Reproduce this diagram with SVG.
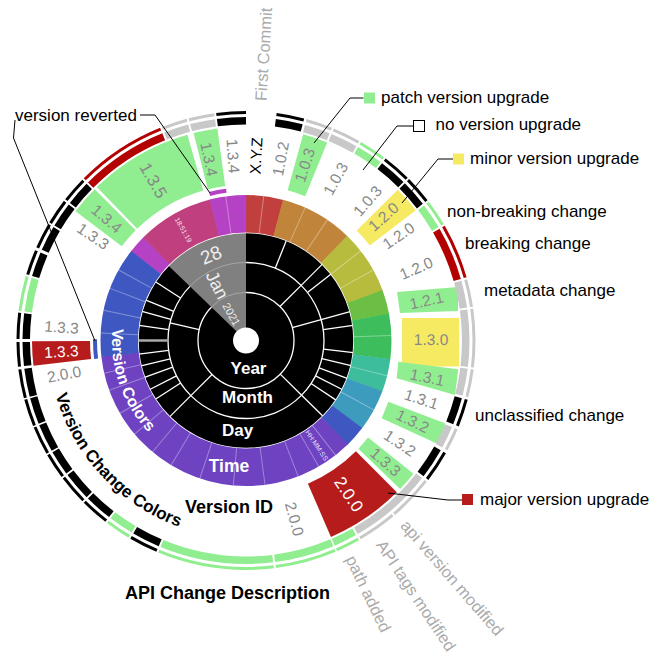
<svg xmlns="http://www.w3.org/2000/svg" width="664" height="658" viewBox="0 0 664 658">
<style>
text{font-family:"Liberation Sans",Arial,sans-serif}
.ti{fill:none;stroke-width:7.5}
.to{fill:none;stroke-width:3}
.k{stroke:#000}.g{stroke:#c8c8c8}.l{stroke:#90ee90}.r{stroke:#b30000}
.tr{fill:none;stroke-width:37.5}
.va{fill:none;stroke-width:58}
.vl{font-size:15.5px;fill:#888;text-anchor:middle}
.lg{font-size:17px;fill:#000}
.rl{font-size:17px;font-weight:bold;fill:#fff;text-anchor:middle}
.bl{font-size:18px;font-weight:bold;fill:#000;text-anchor:middle}
.ol{font-size:16.5px;fill:#aaa}
.ld{fill:none;stroke:#000;stroke-width:1}
.wl{stroke:#fff;stroke-width:1.3}
.fl{stroke:#fff;stroke-opacity:.35;stroke-width:1}
</style>
<defs>
<path id="p-vc" d="M112.74 326.5 A134 134 0 0 0 183.1 458.8"/>
<path id="p-vcc" d="M55.67 395.08 A198 198 0 0 0 225.3 537.4"/>
</defs>

<g id="core-rings" transform="translate(246 340.5)">
<circle r="108" fill="#000"/>
<g class="wl">
<line x1="48" x2="78" transform="rotate(44.5)"/>
<line x1="48" x2="78" transform="rotate(135)"/>
<line x1="48" x2="78" transform="rotate(193)"/>
<line x1="48" x2="78" transform="rotate(315)"/>
<line x1="48" x2="78" transform="rotate(344.5)"/>
<line x1="78" x2="108" transform="rotate(292)"/>
<line x1="78" x2="108" transform="rotate(315)"/>
<line x1="78" x2="108" transform="rotate(322)"/>
<line x1="78" x2="108" transform="rotate(344.5)"/>
<line x1="78" x2="108" transform="rotate(352)"/>
<line x1="78" x2="108" transform="rotate(6.4)"/>
<line x1="78" x2="108" transform="rotate(13.5)"/>
<line x1="78" x2="108" transform="rotate(20.5)"/>
<line x1="78" x2="108" transform="rotate(27)"/>
<line x1="78" x2="108" transform="rotate(33.5)"/>
<line x1="78" x2="108" transform="rotate(44.5)"/>
<line x1="78" x2="108" transform="rotate(135)"/>
<line x1="78" x2="108" transform="rotate(147)"/>
<line x1="78" x2="108" transform="rotate(153)"/>
<line x1="78" x2="108" transform="rotate(160)"/>
<line x1="78" x2="108" transform="rotate(166.4)"/>
<line x1="78" x2="108" transform="rotate(172.7)"/>
<line x1="78" x2="108" transform="rotate(188)"/>
<line x1="78" x2="108" transform="rotate(195.7)"/>
<line x1="78" x2="108" transform="rotate(202)"/>
<line x1="78" x2="108" transform="rotate(213)"/>
</g>
<line x1="79" x2="107" transform="rotate(180)" stroke="#aaa" stroke-width="2.5"/>
<circle r="48" fill="none" stroke="#fff" stroke-width="1.3"/>
<circle r="78" fill="none" stroke="#fff" stroke-width="1.3"/>
<path d="M0 0 L-77.69 -75.02 A108 108 0 0 1 0 -108 Z" fill="#808080"/>
<circle r="48" fill="none" stroke="#a6a6a6" stroke-width="1" pathLength="360" stroke-dasharray="46 314" stroke-dashoffset="-224"/>
<circle r="78" fill="none" stroke="#a6a6a6" stroke-width="1" pathLength="360" stroke-dasharray="46 314" stroke-dashoffset="-224"/>
<circle r="108" fill="none" stroke="#fff" stroke-width="1.5"/>
<circle r="13" fill="#fff"/>
</g>

<g id="time-ring" transform="translate(246 340.5)">
<circle class="tr" r="126.75" stroke="#c1403e" pathLength="360" stroke-dasharray="14.9 345.1" stroke-dashoffset="-270"/>
<circle class="tr" r="126.75" stroke="#c0843b" pathLength="360" stroke-dasharray="29.5 330.5" stroke-dashoffset="-284.7"/>
<circle class="tr" r="126.75" stroke="#b8bc3e" pathLength="360" stroke-dasharray="25.9 334.1" stroke-dashoffset="-314"/>
<circle class="tr" r="126.75" stroke="#6cbf45" pathLength="360" stroke-dasharray="9.8 350.2" stroke-dashoffset="-339.7"/>
<circle class="tr" r="126.75" stroke="#3dbd5c" pathLength="360" stroke-dasharray="18.2 341.8" stroke-dashoffset="-349.3"/>
<circle class="tr" r="126.75" stroke="#3dbd9b" pathLength="360" stroke-dasharray="13.3 346.7" stroke-dashoffset="-7.3"/>
<circle class="tr" r="126.75" stroke="#3d9bbe" pathLength="360" stroke-dasharray="16.8 343.2" stroke-dashoffset="-20.4"/>
<circle class="tr" r="126.75" stroke="#3f58c1" pathLength="360" stroke-dasharray="8.7 351.3" stroke-dashoffset="-37"/>
<circle class="tr" r="126.75" stroke="#6e42c1" pathLength="360" stroke-dasharray="128.2 231.8" stroke-dashoffset="-45.5"/>
<circle class="tr" r="126.75" stroke="#3f58c1" pathLength="360" stroke-dasharray="44.7 315.3" stroke-dashoffset="-173.5"/>
<circle class="tr" r="126.75" stroke="#b541c4" pathLength="360" stroke-dasharray="7.2 352.8" stroke-dashoffset="-218"/>
<circle class="tr" r="126.75" stroke="#c0407f" pathLength="360" stroke-dasharray="30.7 329.3" stroke-dashoffset="-225"/>
<circle class="tr" r="126.75" stroke="#b541c4" pathLength="360" stroke-dasharray="14.6 345.4" stroke-dashoffset="-255.5"/>
<g class="fl">
<line x1="108" x2="145.5" transform="rotate(277)"/>
<line x1="108" x2="145.5" transform="rotate(294)"/>
<line x1="108" x2="145.5" transform="rotate(304)"/>
<line x1="108" x2="145.5" transform="rotate(322)"/>
<line x1="108" x2="145.5" transform="rotate(331)"/>
<line x1="108" x2="145.5" transform="rotate(358)"/>
<line x1="108" x2="145.5" transform="rotate(14)"/>
<line x1="108" x2="145.5" transform="rotate(28.5)"/>
<line x1="108" x2="145.5" transform="rotate(52)"/>
<line x1="108" x2="145.5" transform="rotate(60)"/>
<line x1="108" x2="145.5" transform="rotate(69)"/>
<line x1="108" x2="145.5" transform="rotate(82.5)"/>
<line x1="108" x2="145.5" transform="rotate(95)"/>
<line x1="108" x2="145.5" transform="rotate(108.5)"/>
<line x1="108" x2="145.5" transform="rotate(121)"/>
<line x1="108" x2="145.5" transform="rotate(130)"/>
<line x1="108" x2="145.5" transform="rotate(140)"/>
<line x1="108" x2="145.5" transform="rotate(150)"/>
<line x1="108" x2="145.5" transform="rotate(160)"/>
<line x1="108" x2="145.5" transform="rotate(167)"/>
<line x1="108" x2="145.5" transform="rotate(183)"/>
<line x1="108" x2="145.5" transform="rotate(192)"/>
<line x1="108" x2="145.5" transform="rotate(201)"/>
<line x1="108" x2="145.5" transform="rotate(209)"/>
<line x1="108" x2="145.5" transform="rotate(262)"/>
</g>
<circle r="151" fill="none" stroke="#b541c4" stroke-width="4" pathLength="360" stroke-dasharray="6.5 353.5" stroke-dashoffset="-256"/>
<circle r="151" fill="none" stroke="#3f58c1" stroke-width="4" pathLength="360" stroke-dasharray="7.5 352.5" stroke-dashoffset="-173"/>
<text transform="rotate(240.5) translate(127 0) rotate(180)" dy=".35em" font-size="7" fill="#fff" fill-opacity=".85" text-anchor="middle">18:51:19</text>
<text transform="rotate(56) translate(126.5 0)" dy=".35em" font-size="7" fill="#fff" fill-opacity=".85" text-anchor="middle">HH:MM:SS</text>
<text transform="rotate(240.9) translate(30 0) rotate(180)" dy=".35em" font-size="11" fill="#eee" text-anchor="middle">2021</text>
<text transform="rotate(242.8) translate(62.5 0) rotate(180)" dy=".35em" font-size="18" fill="#eee" text-anchor="middle">Jan</text>
<text transform="rotate(247.7) translate(92.5 0) rotate(90)" dy=".35em" font-size="19" fill="#eee" text-anchor="middle">28</text>
</g>

<g id="version-ring">
<g transform="translate(246 340.5)">
<circle class="va" r="185" stroke="#90ee90" pathLength="360" stroke-dasharray="6.5 353.5" stroke-dashoffset="-255.8"/>
<circle class="va" r="185" stroke="#90ee90" pathLength="360" stroke-dasharray="28.3 331.7" stroke-dashoffset="-225.8"/>
<circle class="va" r="185" stroke="#90ee90" pathLength="360" stroke-dasharray="7.8 352.2" stroke-dashoffset="-217.2"/>
<circle class="va" r="185" stroke="#b71c1c" pathLength="360" stroke-dasharray="6.6 353.4" stroke-dashoffset="-173.2"/>
<circle class="va" r="185" stroke="#90ee90" pathLength="360" stroke-dasharray="6.8 353.2" stroke-dashoffset="-285.5"/>
<circle class="va" r="185" stroke="#f6ea62" pathLength="360" stroke-dasharray="7.3 352.7" stroke-dashoffset="-315.2"/>
<circle class="va" r="185" stroke="#90ee90" pathLength="360" stroke-dasharray="5.4 354.6" stroke-dashoffset="-38.5"/>
<circle class="va" r="185" stroke="#b71c1c" pathLength="360" stroke-dasharray="21.4 338.6" stroke-dashoffset="-45.2"/>
</g>
<rect x="402" y="318" width="57" height="48.5" fill="#f6ea62"/>
<polygon points="397,292 458,287 458,311 400,313" fill="#90ee90"/>
<polygon points="398.3,361.7 458.3,369.3 455,395 396.7,378.3" fill="#90ee90"/>
<polygon points="388.3,401.7 445,423.3 440,445 381.7,418.3" fill="#90ee90"/>
<g transform="translate(246 340.5)">
<text class="vl" transform="rotate(273.1) translate(185 0)" dy=".35em" fill="#000" style="fill:#000">X.Y.Z</text>
<text class="vl" transform="rotate(280.8) translate(185 0)" dy=".35em">1.0.2</text>
<text class="vl" transform="rotate(288.5) translate(185 0)" dy=".35em">1.0.3</text>
<text class="vl" transform="rotate(299) translate(185 0)" dy=".35em">1.0.3</text>
<text class="vl" transform="rotate(311) translate(185 0)" dy=".35em">1.0.3</text>
<text class="vl" transform="rotate(318) translate(185 0)" dy=".35em">1.2.0</text>
<text class="vl" transform="rotate(325.5) translate(185 0)" dy=".35em">1.2.0</text>
<text class="vl" transform="rotate(337) translate(185 0)" dy=".35em">1.2.0</text>
<text class="vl" transform="rotate(347.5) translate(185 0)" dy=".35em">1.2.1</text>
<text class="vl" transform="rotate(359.7) translate(185 0)" dy=".35em">1.3.0</text>
<text class="vl" transform="rotate(11.5) translate(185 0)" dy=".35em">1.3.1</text>
<text class="vl" transform="rotate(18.5) translate(185 0)" dy=".35em">1.3.1</text>
<text class="vl" transform="rotate(25.8) translate(185 0)" dy=".35em">1.3.2</text>
<text class="vl" transform="rotate(33.7) translate(185 0)" dy=".35em">1.3.2</text>
<text class="vl" transform="rotate(41) translate(185 0)" dy=".35em">1.3.3</text>
<text class="vl" transform="rotate(56.2) translate(185 0)" dy=".35em" style="fill:#fff;font-size:17px">2.0.0</text>
<text class="vl" transform="rotate(74.8) translate(185 0)" dy=".35em">2.0.0</text>
<text class="vl" transform="rotate(169.5) translate(185 0) rotate(180)" dy=".35em">2.0.0</text>
<text class="vl" transform="rotate(176.6) translate(185 0) rotate(180)" dy=".35em" style="fill:#fff">1.3.3</text>
<text class="vl" transform="rotate(184.1) translate(185 0) rotate(180)" dy=".35em">1.3.3</text>
<text class="vl" transform="rotate(214.3) translate(185 0) rotate(180)" dy=".35em">1.3.3</text>
<text class="vl" transform="rotate(221.2) translate(185 0) rotate(180)" dy=".35em">1.3.4</text>
<text class="vl" transform="rotate(240) translate(185 0) rotate(180)" dy=".35em" style="font-size:17px">1.3.5</text>
<text class="vl" transform="rotate(258.5) translate(185 0) rotate(180)" dy=".35em">1.3.4</text>
<text class="vl" transform="rotate(266) translate(185 0) rotate(180)" dy=".35em">1.3.4</text>
</g>
</g>

<g id="change-rings" transform="translate(246 340.5)">
<circle class="ti k" r="219.75" pathLength="360" stroke-dasharray="7 353" stroke-dashoffset="-277.7"/>
<circle class="ti g" r="219.75" pathLength="360" stroke-dasharray="6.7 353.3" stroke-dashoffset="-285.3"/>
<circle class="ti g" r="219.75" pathLength="360" stroke-dasharray="7.1 352.9" stroke-dashoffset="-292.5"/>
<circle class="ti l" r="219.75" pathLength="360" stroke-dasharray="6.9 353.1" stroke-dashoffset="-300.1"/>
<circle class="ti k" r="219.75" pathLength="360" stroke-dasharray="7.3 352.7" stroke-dashoffset="-307.5"/>
<circle class="ti k" r="219.75" pathLength="360" stroke-dasharray="7 353" stroke-dashoffset="-315.3"/>
<circle class="ti l" r="219.75" pathLength="360" stroke-dasharray="6.7 353.3" stroke-dashoffset="-322.8"/>
<circle class="ti r" r="219.75" pathLength="360" stroke-dasharray="14 346" stroke-dashoffset="-330"/>
<circle class="ti g" r="219.75" pathLength="360" stroke-dasharray="7 353" stroke-dashoffset="-344.5"/>
<circle class="ti g" r="219.75" pathLength="360" stroke-dasharray="14.8 345.2" stroke-dashoffset="-352"/>
<circle class="ti g" r="219.75" pathLength="360" stroke-dasharray="7 353" stroke-dashoffset="-7.3"/>
<circle class="ti k" r="219.75" pathLength="360" stroke-dasharray="7 353" stroke-dashoffset="-15"/>
<circle class="ti g" r="219.75" pathLength="360" stroke-dasharray="5.8 354.2" stroke-dashoffset="-22.8"/>
<circle class="ti k" r="219.75" pathLength="360" stroke-dasharray="8 352" stroke-dashoffset="-29.4"/>
<circle class="ti g" r="219.75" pathLength="360" stroke-dasharray="22 338" stroke-dashoffset="-38"/>
<circle class="ti l" r="219.75" pathLength="360" stroke-dasharray="6.1 353.9" stroke-dashoffset="-60.5"/>
<circle class="ti l" r="219.75" pathLength="360" stroke-dasharray="15.5 344.5" stroke-dashoffset="-67"/>
<circle class="ti l" r="219.75" pathLength="360" stroke-dasharray="29.5 330.5" stroke-dashoffset="-83"/>
<circle class="ti k" r="219.75" pathLength="360" stroke-dasharray="7.3 352.7" stroke-dashoffset="-113"/>
<circle class="ti l" r="219.75" pathLength="360" stroke-dasharray="6.5 353.5" stroke-dashoffset="-120.8"/>
<circle class="ti k" r="219.75" pathLength="360" stroke-dasharray="7.2 352.8" stroke-dashoffset="-127.8"/>
<circle class="ti k" r="219.75" pathLength="360" stroke-dasharray="7.5 352.5" stroke-dashoffset="-135.5"/>
<circle class="ti k" r="219.75" pathLength="360" stroke-dasharray="6.5 353.5" stroke-dashoffset="-143.5"/>
<circle class="ti k" r="219.75" pathLength="360" stroke-dasharray="7.3 352.7" stroke-dashoffset="-150.4"/>
<circle class="ti k" r="219.75" pathLength="360" stroke-dasharray="6.9 353.1" stroke-dashoffset="-158.1"/>
<circle class="ti k" r="219.75" pathLength="360" stroke-dasharray="7.3 352.7" stroke-dashoffset="-165.4"/>
<circle class="ti k" r="219.75" pathLength="360" stroke-dasharray="6.2 353.8" stroke-dashoffset="-173.4"/>
<circle class="ti k" r="219.75" pathLength="360" stroke-dasharray="6.6 353.4" stroke-dashoffset="-180.4"/>
<circle class="ti l" r="219.75" pathLength="360" stroke-dasharray="8.8 351.2" stroke-dashoffset="-187.5"/>
<circle class="ti k" r="219.75" pathLength="360" stroke-dasharray="6.4 353.6" stroke-dashoffset="-196.8"/>
<circle class="ti k" r="219.75" pathLength="360" stroke-dasharray="6.5 353.5" stroke-dashoffset="-204"/>
<circle class="ti k" r="219.75" pathLength="360" stroke-dasharray="6.5 353.5" stroke-dashoffset="-211"/>
<circle class="ti k" r="219.75" pathLength="360" stroke-dasharray="6.5 353.5" stroke-dashoffset="-218"/>
<circle class="ti r" r="219.75" pathLength="360" stroke-dasharray="23 337" stroke-dashoffset="-225"/>
<circle class="ti g" r="219.75" pathLength="360" stroke-dasharray="6.5 353.5" stroke-dashoffset="-248.5"/>
<circle class="ti g" r="219.75" pathLength="360" stroke-dasharray="6.5 353.5" stroke-dashoffset="-255.5"/>
<circle class="ti k" r="219.75" pathLength="360" stroke-dasharray="7.5 352.5" stroke-dashoffset="-262.5"/>

<circle class="to k" r="228" pathLength="360" stroke-dasharray="7 353" stroke-dashoffset="-277.7"/>
<circle class="to g" r="228" pathLength="360" stroke-dasharray="6.7 353.3" stroke-dashoffset="-285.3"/>
<circle class="to g" r="228" pathLength="360" stroke-dasharray="7.1 352.9" stroke-dashoffset="-292.5"/>
<circle class="to l" r="228" pathLength="360" stroke-dasharray="6.9 353.1" stroke-dashoffset="-300.1"/>
<circle class="to k" r="228" pathLength="360" stroke-dasharray="7.3 352.7" stroke-dashoffset="-307.5"/>
<circle class="to k" r="228" pathLength="360" stroke-dasharray="7 353" stroke-dashoffset="-315.3"/>
<circle class="to l" r="228" pathLength="360" stroke-dasharray="6.7 353.3" stroke-dashoffset="-322.8"/>
<circle class="to r" r="228" pathLength="360" stroke-dasharray="14 346" stroke-dashoffset="-330"/>
<circle class="to g" r="228" pathLength="360" stroke-dasharray="7 353" stroke-dashoffset="-344.5"/>
<circle class="to g" r="228" pathLength="360" stroke-dasharray="14.8 345.2" stroke-dashoffset="-352"/>
<circle class="to g" r="228" pathLength="360" stroke-dasharray="7 353" stroke-dashoffset="-7.3"/>
<circle class="to k" r="228" pathLength="360" stroke-dasharray="7 353" stroke-dashoffset="-15"/>
<circle class="to g" r="228" pathLength="360" stroke-dasharray="5.8 354.2" stroke-dashoffset="-22.8"/>
<circle class="to k" r="228" pathLength="360" stroke-dasharray="8 352" stroke-dashoffset="-29.4"/>
<circle class="to g" r="228" pathLength="360" stroke-dasharray="11.5 348.5" stroke-dashoffset="-38"/>
<circle class="to g" r="228" pathLength="360" stroke-dasharray="10 350" stroke-dashoffset="-50"/>
<circle class="to l" r="228" pathLength="360" stroke-dasharray="6.1 353.9" stroke-dashoffset="-60.5"/>
<circle class="to l" r="228" pathLength="360" stroke-dasharray="15.5 344.5" stroke-dashoffset="-67"/>
<circle class="to l" r="228" pathLength="360" stroke-dasharray="29.5 330.5" stroke-dashoffset="-83"/>
<circle class="to k" r="228" pathLength="360" stroke-dasharray="7.3 352.7" stroke-dashoffset="-113"/>
<circle class="to l" r="228" pathLength="360" stroke-dasharray="6.5 353.5" stroke-dashoffset="-120.8"/>
<circle class="to k" r="228" pathLength="360" stroke-dasharray="7.2 352.8" stroke-dashoffset="-127.8"/>
<circle class="to k" r="228" pathLength="360" stroke-dasharray="7.5 352.5" stroke-dashoffset="-135.5"/>
<circle class="to k" r="228" pathLength="360" stroke-dasharray="6.5 353.5" stroke-dashoffset="-143.5"/>
<circle class="to k" r="228" pathLength="360" stroke-dasharray="7.3 352.7" stroke-dashoffset="-150.4"/>
<circle class="to k" r="228" pathLength="360" stroke-dasharray="6.9 353.1" stroke-dashoffset="-158.1"/>
<circle class="to k" r="228" pathLength="360" stroke-dasharray="7.3 352.7" stroke-dashoffset="-165.4"/>
<circle class="to k" r="228" pathLength="360" stroke-dasharray="6.2 353.8" stroke-dashoffset="-173.4"/>
<circle class="to k" r="228" pathLength="360" stroke-dasharray="6.6 353.4" stroke-dashoffset="-180.4"/>
<circle class="to l" r="228" pathLength="360" stroke-dasharray="8.8 351.2" stroke-dashoffset="-187.5"/>
<circle class="to k" r="228" pathLength="360" stroke-dasharray="6.4 353.6" stroke-dashoffset="-196.8"/>
<circle class="to k" r="228" pathLength="360" stroke-dasharray="6.5 353.5" stroke-dashoffset="-204"/>
<circle class="to k" r="228" pathLength="360" stroke-dasharray="6.5 353.5" stroke-dashoffset="-211"/>
<circle class="to k" r="228" pathLength="360" stroke-dasharray="6.5 353.5" stroke-dashoffset="-218"/>
<circle class="to r" r="228" pathLength="360" stroke-dasharray="23 337" stroke-dashoffset="-225"/>
<circle class="to g" r="228" pathLength="360" stroke-dasharray="6.5 353.5" stroke-dashoffset="-248.5"/>
<circle class="to g" r="228" pathLength="360" stroke-dasharray="6.5 353.5" stroke-dashoffset="-255.5"/>
<circle class="to k" r="228" pathLength="360" stroke-dasharray="7.5 352.5" stroke-dashoffset="-262.5"/>

<text class="ol" transform="rotate(273.5) translate(240 0)" dy=".35em">First Commit</text>
<text class="ol" transform="rotate(49) translate(241 0)" dy=".35em">api version modified</text>
<text class="ol" transform="rotate(56.3) translate(242 0)" dy=".35em">API tags modified</text>
<text class="ol" transform="rotate(64.2) translate(240 0)" dy=".35em">path added</text>
</g>

<g id="ring-titles">
<text class="rl" x="248.5" y="374">Year</text>
<text class="rl" x="247.5" y="402.5">Month</text>
<text class="rl" x="237.5" y="435.5">Day</text>
<text class="rl" x="229" y="471.5" style="font-size:17.5px">Time</text>
<text class="rl" style="font-size:16px;text-anchor:start"><textPath href="#p-vc" startOffset="2">Version Colors</textPath></text>
<text class="bl" x="229" y="512.5">Version ID</text>
<text class="bl" style="font-size:17px;text-anchor:start"><textPath href="#p-vcc" startOffset="0">Version Change Colors</textPath></text>
<text class="bl" x="227.5" y="599">API Change Description</text>
</g>

<g id="legend">
<rect x="364" y="92.5" width="11" height="11" fill="#90ee90"/>
<text class="lg" x="381" y="103">patch version upgrade</text>
<rect x="413.5" y="120.5" width="11" height="11" fill="#fff" stroke="#000" stroke-width="1"/>
<text class="lg" x="435.5" y="130">no version upgrade</text>
<rect x="453" y="153.5" width="11" height="11" fill="#f6ea62"/>
<text class="lg" x="470" y="164">minor version upgrade</text>
<text class="lg" x="447" y="217">non-breaking change</text>
<text class="lg" x="465" y="249">breaking change</text>
<text class="lg" x="484" y="296">metadata change</text>
<text class="lg" x="475" y="421">unclassified change</text>
<rect x="462" y="494" width="11" height="11" fill="#b71c1c"/>
<text class="lg" x="480" y="505">major version upgrade</text>
<text class="lg" x="15" y="120.5">version reverted</text>
</g>

<g id="connectors">
<polyline class="ld" points="363.5,98 350,98 314,143"/>
<polyline class="ld" points="413.5,126 397,126 363,170"/>
<polyline class="ld" points="453,159 438,159 402,203"/>
<polyline class="ld" points="388,493 448,500 462,500"/>
<polyline class="ld" points="140,115 155,115 210,193"/>
<polyline class="ld" points="15,120 13.5,138 95,341"/>
</g>
</svg>
